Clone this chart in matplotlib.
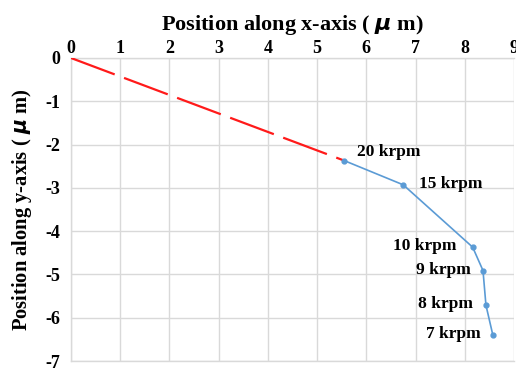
import matplotlib
matplotlib.use("Agg")
import matplotlib.pyplot as plt

# data
speeds = ["20 krpm", "15 krpm", "10 krpm", "9 krpm", "8 krpm", "7 krpm"]
x_pos = [5.55, 6.75, 8.16, 8.37, 8.43, 8.57]
y_pos = [-2.37, -2.93, -4.37, -4.91, -5.71, -6.40]
extrap_x = [0, 5.55]
extrap_y = [0, -2.37]
x_ticks = list(range(0, 10))
y_ticks = list(range(0, -8, -1))

# label offsets in pixels (dx, dy, ha)
offsets = [(13, 9, "left"), (16, 1, "left"), (-16, 1, "right"),
           (-12, 1, "right"), (-13, 1, "right"), (-12, 1, "right")]

plt.rcParams["font.family"] = ["Liberation Serif", "DejaVu Serif"]
plt.rcParams["font.weight"] = "bold"
plt.rcParams["axes.unicode_minus"] = False

fig = plt.figure(figsize=(5.16, 3.71), dpi=100)
ax = fig.add_axes([71/516, 1-361/371, (514-71)/516, (361-58)/371])

ax.set_xlim(0, 9)
ax.set_ylim(-7, 0)
ax.xaxis.tick_top()
ax.xaxis.set_label_position("top")
ax.set_xticks(x_ticks)
ax.set_yticks(y_ticks)
ax.tick_params(length=0, labelsize=13)
ax.tick_params(axis="x", pad=1)
ax.tick_params(axis="y", pad=7.5)
for lbl in ax.get_xticklabels() + ax.get_yticklabels():
    lbl.set_fontweight("bold")
ax.grid(True, color="#d9d9d9", linewidth=1.0)
ax.set_axisbelow(True)
for s in ax.spines.values():
    s.set_color("#d9d9d9")
    s.set_linewidth(1.0)
ax.spines["right"].set_visible(False)

ax.plot(extrap_x, extrap_y, color="#ff1a1a", linewidth=1.6,
        dashes=(21, 4.5), zorder=3)
ax.plot(x_pos, y_pos, color="#5b9bd5", linewidth=1.2, marker="o",
        markersize=3.5, zorder=4)

for s, x, y, (dx, dy, ha) in zip(speeds, x_pos, y_pos, offsets):
    ax.annotate(s, (x, y), xytext=(dx, dy), textcoords="offset pixels",
                ha=ha, va="center", fontsize=12.5, fontweight="bold")

ax.set_xlabel("Position along x-axis ( $\\mu$ m)", fontsize=16,
              fontweight="bold")
ax.xaxis.set_label_coords(0.5, 1 + (58 - 30) / 303)
ax.set_ylabel("Position along y-axis ( $\\mu$ m)", fontsize=14.8,
              fontweight="bold")
ax.yaxis.set_label_coords(-(71 - 34) / 443, 0.5)

fig.savefig("out.png", dpi=100)
